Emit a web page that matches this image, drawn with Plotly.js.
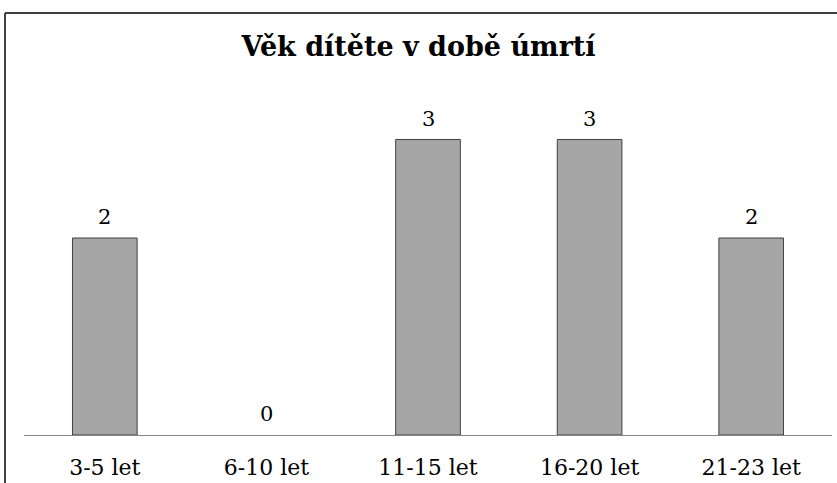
<!DOCTYPE html>
<html>
<head>
<meta charset="utf-8">
<script src="https://cdn.plot.ly/plotly-3.0.1.min.js"></script>
<style>html,body{margin:0;padding:0;background:#fff;}#chart{width:837px;height:483px;}</style>
</head>
<body>
<div id="chart"></div>
<script>
const categories = ["3-5 let", "6-10 let", "11-15 let", "16-20 let", "21-23 let"];
const values = [2, 0, 3, 3, 2];
const chartTitle = "Věk dítěte v době úmrtí";

const serif = "DejaVu Serif, Liberation Serif, serif";

const trace = {
  type: "bar",
  x: categories,
  y: values,
  marker: {
    color: "#A6A6A6",
    line: {color: "#404040", width: values.map(v => v === 0 ? 0 : 1)}
  },
  hoverinfo: "none"
};

const annotations = categories.map((c, i) => ({
  x: c,
  y: values[i],
  xref: "x",
  yref: "y",
  text: String(values[i]),
  showarrow: false,
  xanchor: "center",
  yanchor: "bottom",
  yshift: 7,
  font: {family: serif, size: 21, color: "#000"}
}));

const layout = {
  width: 837,
  height: 483,
  margin: {l: 24, r: 5, t: 80, b: 48},
  paper_bgcolor: "#fff",
  plot_bgcolor: "#fff",
  bargap: 0.6,
  showlegend: false,
  title: {
    text: "<b>" + chartTitle + "</b>",
    font: {family: serif, size: 27, color: "#000"},
    x: 0.5, xanchor: "center",
    y: 0.903, yanchor: "middle"
  },
  xaxis: {
    type: "category",
    showline: true,
    linecolor: "#868686",
    linewidth: 1,
    ticks: "",
    ticklabelstandoff: 13,
    tickfont: {family: serif, size: 22, color: "#000"},
    showgrid: false,
    zeroline: false,
    automargin: false
  },
  yaxis: {
    range: [0, 3.604],
    visible: false,
    showgrid: false,
    zeroline: false
  },
  annotations: annotations,
  shapes: [
    {type: "line", xref: "paper", yref: "paper", x0: -0.0235, x1: -0.0235, y0: -0.2, y1: 1.1887, line: {color: "#404040", width: 2}},
    {type: "line", xref: "paper", yref: "paper", x0: -0.0235, x1: 1.01, y0: 1.1887, y1: 1.1887, line: {color: "#404040", width: 2}}
  ]
};

Plotly.newPlot("chart", [trace], layout, {staticPlot: true, displayModeBar: false});
</script>
</body>
</html>
